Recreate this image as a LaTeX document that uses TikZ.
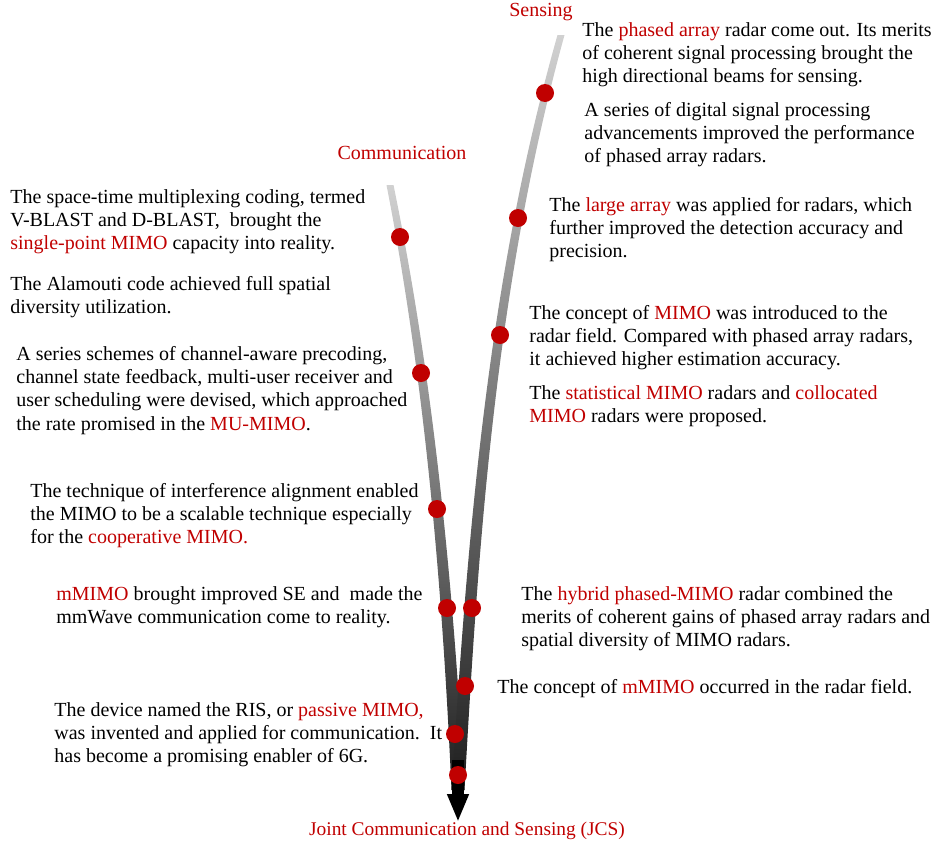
\documentclass[tikz,border=0pt]{standalone}
\usepackage{fontspec}
\setmainfont{Liberation Serif}
\usetikzlibrary{arrows.meta,positioning}
\definecolor{jred}{RGB}{192,0,0}
\newcommand{\redtxt}[1]{\textcolor{jred}{#1}}

\begin{document}
\begin{tikzpicture}[x=0.5pt, y=-0.5pt,
    note/.style={anchor=north west, align=left, inner sep=0pt, font=\fontsize{10}{11.6}\selectfont},
    title/.style={text=jred, inner sep=0pt, font=\fontsize{10}{11.6}\selectfont},
    event/.style={circle, fill=jred, minimum size=9pt, inner sep=0pt}]
    \useasboundingbox (0,0) rectangle (935,846);

    % Communication branch (tapered, light to dark)
    \shade[top color=black!18, middle color=black!74, bottom color=black!88]
        (386.5,185) .. controls (425.5,385) and (442.5,590) .. (451.5,790)
        -- (464.5,790) .. controls (453.5,590) and (434.5,385) .. (393.5,185) -- cycle;

    % Sensing branch
    \shade[top color=black!18, middle color=black!74, bottom color=black!88]
        (557.5,35) .. controls (486.5,285) and (467.5,540) .. (451.5,790)
        -- (464.5,790) .. controls (478.5,540) and (495.5,285) .. (564.5,35) -- cycle;

    % Joint arrow
    \coordinate (merge) at (458,760);
    \coordinate (tip) at (458,822);
    \draw[line width=6pt, black, -{Triangle[width=10pt, length=14pt]}] (merge) -- (tip);

    % Branch titles
    \node[title] (sens) at (541,12) {Sensing};
    \node[title] (comm) at (402,153) {Communication};
    \node[title, font=\fontsize{9.7}{11.6}\selectfont] (jcs) at (467,831) {Joint Communication and Sensing (JCS)};

    % Events on the communication branch
    \node[event] (c1) at (400,237) {};
    \node[event] (c2) at (421,373) {};
    \node[event] (c3) at (437,509) {};
    \node[event] (c4) at (447,608) {};
    \node[event] (c5) at (455,734) {};

    % Events on the sensing branch
    \node[event] (s1) at (545,93) {};
    \node[event] (s2) at (518,218) {};
    \node[event] (s3) at (500,335) {};
    \node[event] (s4) at (472,608) {};
    \node[event] (s5) at (465,686) {};

    % Joint event
    \node[event] (j1) at (458,775) {};

    % Sensing notes
    \node[note] (sn1) at (582,22) {The \redtxt{phased array} radar come out. Its merits\\of coherent signal processing brought the\\high directional beams for sensing.};
    \node[note] (sn2) at (584,102) {A series of digital signal processing\\advancements improved the performance\\of phased array radars.};
    \node[note] (sn3) at (549,197) {The \redtxt{large array} was applied for radars, which\\further improved the detection accuracy and\\precision.};
    \node[note] (sn4) at (529,305) {The concept of \redtxt{MIMO} was introduced to the\\radar field. Compared with phased array radars,\\it achieved higher estimation accuracy.};
    \node[note] (sn5) at (529,385) {The \redtxt{statistical MIMO} radars and \redtxt{collocated}\\\redtxt{MIMO} radars were proposed.};
    \node[note] (sn6) at (521,586) {The \redtxt{hybrid phased-MIMO} radar combined the\\merits of coherent gains of phased array radars and\\spatial diversity of MIMO radars.};
    \node[note] (sn7) at (497,679) {The concept of \redtxt{mMIMO} occurred in the radar field.};

    % Communication notes
    \node[note] (cn1) at (10,189) {The space-time multiplexing coding, termed\\V-BLAST and D-BLAST,\ \ brought the\\\redtxt{single-point MIMO} capacity into reality.};
    \node[note] (cn2) at (10,276) {The Alamouti code achieved full spatial\\diversity utilization.};
    \node[note] (cn3) at (16,346) {A series schemes of channel-aware precoding,\\channel state feedback, multi-user receiver and\\user scheduling were devised, which approached\\the rate promised in the \redtxt{MU-MIMO}.};
    \node[note] (cn4) at (30,483) {The technique of interference alignment enabled\\the MIMO to be a scalable technique especially\\for the \redtxt{cooperative MIMO.}};
    \node[note] (cn5) at (56,586) {\redtxt{mMIMO} brought improved SE and\ \ made the\\mmWave communication come to reality.};
    \node[note] (cn6) at (54,702) {The device named the RIS, or \redtxt{passive MIMO,}\\was invented and applied for communication.\ \ It\\has become a promising enabler of 6G.};

\end{tikzpicture}
\end{document}
